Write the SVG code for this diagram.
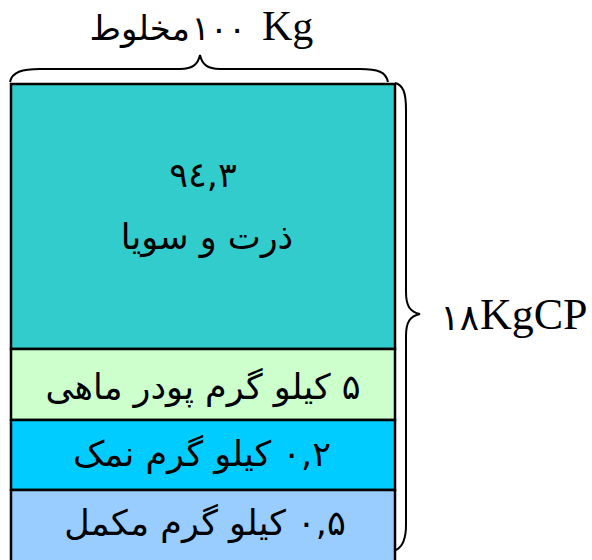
<svg xmlns="http://www.w3.org/2000/svg" width="592" height="560" viewBox="0 0 592 560">
<style>
.seg{stroke:#000;stroke-width:2.5}
.fa{font-family:"DejaVu Sans","Noto Sans",sans-serif;font-size:35px;fill:#000;text-anchor:middle;direction:rtl;unicode-bidi:embed}
.tm{font-family:"Liberation Serif","Times New Roman",serif;font-size:42px;fill:#000}
.brace{fill:none;stroke:#000;stroke-width:2}
</style>
<rect width="592" height="560" fill="#fff"/>
<g id="seg-corn">
<rect class="seg" x="11" y="84" width="384" height="265" fill="#33CCCC"/>
<text class="fa" x="203" y="187" style="direction:ltr">۹٤,۳</text>
<text class="fa" x="207" y="249">ذرت و سویا</text>
</g>
<g id="seg-fish">
<rect class="seg" x="11" y="349" width="384" height="71" fill="#CCFFCC"/>
<text class="fa" x="203" y="399">۵ کیلو گرم پودر ماهی</text>
</g>
<g id="seg-salt">
<rect class="seg" x="11" y="420" width="384" height="70" fill="#00CCFF"/>
<text class="fa" x="202" y="466">۰,۲ کیلو گرم نمک</text>
</g>
<g id="seg-supp">
<rect class="seg" x="11" y="490" width="384" height="80" fill="#99CCFF"/>
<text class="fa" x="205" y="535">۰,۵ کیلو گرم مکمل</text>
</g>
<g id="connectors">
<path class="brace" d="M10,82 C12,72 22,69 40,69 L180,69 C193,69 198,64 200,55 C202,64 207,69 220,69 L360,69 C378,69 386,72 388,82"/>
<path class="brace" d="M395,83 C403,85 406,92 406,110 L406,292 C406,306 410,312 420,314 C410,316 406,322 406,336 L406,525 C406,540 402,547 396,550"/>
</g>
<g id="label-top">
<text class="fa" x="190" y="40" style="text-anchor:end;direction:ltr;font-size:34px">مخلوط</text>
<text class="fa" x="219" y="40" style="direction:ltr;font-size:34px">۱۰۰</text>
<text class="tm" x="262" y="40">Kg</text>
</g>
<g id="label-right">
<text class="fa" x="479" y="330" style="text-anchor:end;direction:ltr;font-size:36px">۱۸</text>
<text class="tm" x="480" y="329" style="font-size:44px">KgCP</text>
</g>
</svg>
